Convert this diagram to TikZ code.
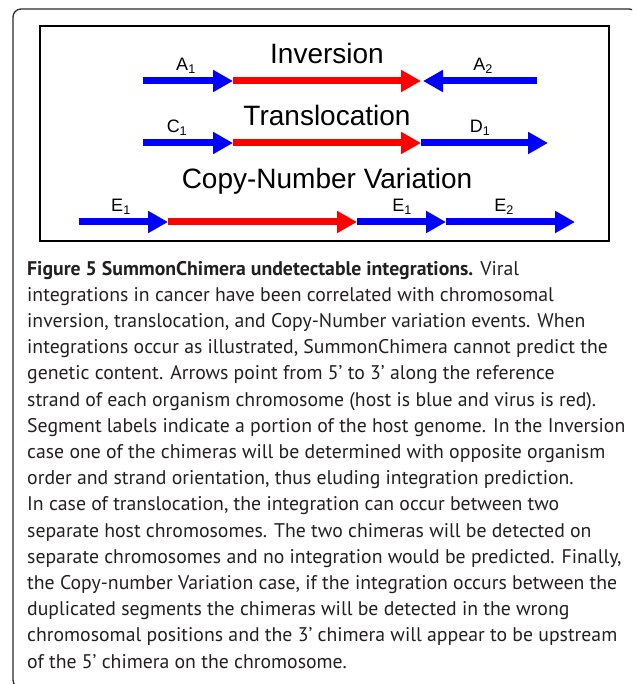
\documentclass[tikz,border=0pt]{standalone}
\usepackage{fontspec}
\setmainfont{Liberation Sans}
\newfontfamily\capfont{PT Sans}
\usepackage{xcolor}
\definecolor{hostColor}{HTML}{0000FF}
\definecolor{virusColor}{HTML}{FF0000}
\definecolor{frameColor}{HTML}{2B2B2B}
\definecolor{capColor}{HTML}{231F20}
\usepackage{tikz}
\usetikzlibrary{arrows.meta}

\begin{document}
\begin{tikzpicture}[x=1pt, y=-1pt,
  seg/.style={line width=7pt, -{Triangle[length=20pt, width=21pt]}},
  title/.style={anchor=base, inner sep=0pt, font=\fontsize{28}{28}\selectfont},
  seglabel/.style={anchor=base, inner sep=0pt, font=\fontsize{18}{18}\selectfont},
  capline/.style={anchor=base west, inner sep=0pt, text=capColor,
    font=\capfont\fontsize{19.75}{26}\selectfont}]
  \useasboundingbox (0,0) rectangle (632,684);

  \begin{scope}
    \clip (0,0) rectangle (632,684);
    \draw[frameColor, line width=1.3pt, rounded corners=8pt] (13,9) rectangle (637,688);
  \end{scope}
  \draw[black, line width=2.5pt] (40,26) rectangle (609,241);

  \node[title] (inv) at (327,64) {Inversion};
  \node[title] (trans) at (327,126) {Translocation};
  \node[title] (cnv) at (327,189) {Copy-Number Variation};

  % inversion row
  \coordinate (i0) at (143,81);
  \coordinate (i1) at (233,81);
  \coordinate (i2) at (421,81);
  \coordinate (i3) at (423,81);
  \coordinate (i4) at (537,81);
  \draw[seg, hostColor] (i0) -- (i1);
  \draw[seg, virusColor] (i1) -- (i2);
  \draw[seg, hostColor] (i4) -- (i3);
  \node[seglabel] (a1) at (186,71) {A\textsubscript{1}};
  \node[seglabel] (a2) at (483,71) {A\textsubscript{2}};

  % translocation row
  \coordinate (t0) at (143,143);
  \coordinate (t1) at (233,143);
  \coordinate (t2) at (421,143);
  \coordinate (t3) at (548,143);
  \draw[seg, hostColor] (t0) -- (t1);
  \draw[seg, virusColor] (t1) -- (t2);
  \draw[seg, hostColor] (t2) -- (t3);
  \node[seglabel] (c1) at (177,133) {C\textsubscript{1}};
  \node[seglabel] (d1) at (480,133) {D\textsubscript{1}};

  % copy-number row
  \coordinate (c0) at (79,222);
  \coordinate (c1) at (168,222);
  \coordinate (c2) at (357,222);
  \coordinate (c3) at (446,222);
  \coordinate (c4) at (575,222);
  \draw[seg, hostColor] (c0) -- (c1);
  \draw[seg, virusColor] (c1) -- (c2);
  \draw[seg, hostColor] (c2) -- (c3);
  \draw[seg, hostColor] (c3) -- (c4);
  \node[seglabel] (e1) at (121,212) {E\textsubscript{1}};
  \node[seglabel] (e1b) at (402,212) {E\textsubscript{1}};
  \node[seglabel] (e2) at (504,212) {E\textsubscript{2}};

  % caption
  \foreach \txt [count=\n] in {
    {\textbf{Figure 5 SummonChimera undetectable integrations.} Viral},
    {integrations in cancer have been correlated with chromosomal},
    {inversion, translocation, and Copy-Number variation events. When},
    {integrations occur as illustrated, SummonChimera cannot predict the},
    {genetic content. Arrows point from 5’ to 3’ along the reference},
    {strand of each organism chromosome (host is blue and virus is red).},
    {Segment labels indicate a portion of the host genome. In the Inversion},
    {case one of the chimeras will be determined with opposite organism},
    {order and strand orientation, thus eluding integration prediction.},
    {In case of translocation, the integration can occur between two},
    {separate host chromosomes. The two chimeras will be detected on},
    {separate chromosomes and no integration would be predicted. Finally,},
    {the Copy-number Variation case, if the integration occurs between the},
    {duplicated segments the chimeras will be detected in the wrong},
    {chromosomal positions and the 3’ chimera will appear to be upstream},
    {of the 5’ chimera on the chromosome.}}
  \node[capline] (cap\n) at (27,{275+(\n-1)*26.2}) {\txt};
\end{tikzpicture}
\end{document}
